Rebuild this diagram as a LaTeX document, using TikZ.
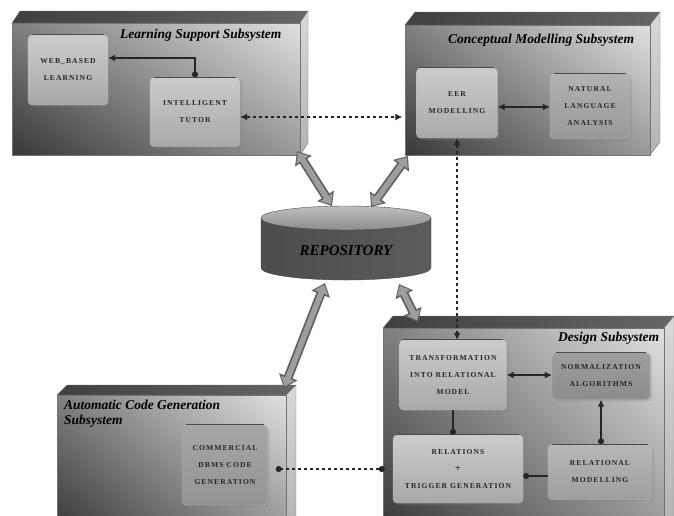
\documentclass[tikz,border=0pt]{standalone}
\usepackage{fontspec}
\setmainfont{Liberation Serif}
\newfontfamily\boxfont[LetterSpace=14]{Liberation Serif}
\usetikzlibrary{arrows.meta,shadows,shadings,calc}

\tikzset{
 face/.style={draw=black!55, line width=0.4pt},
 inbox/.style={rounded corners=4pt, draw=black!28, top color=black!20, bottom color=black!34,
   align=center, font=\boxfont\bfseries\fontsize{7.6}{17}\selectfont, text=black!85, inner sep=2pt,
   drop shadow={shadow xshift=2pt,shadow yshift=-2pt,opacity=0.25}},
 titletext/.style={font=\bfseries\itshape\fontsize{13.5}{15}\selectfont, inner sep=0pt},
 conn/.style={line width=1.2pt, black!85},
 dconn/.style={conn, dash pattern=on 3.5pt off 2.5pt},
 tipA/.tip={Latex[length=7pt,width=7pt]},
 tipC/.tip={Circle[length=6pt]},
 bigout/.style={line width=9pt, black!62, {Triangle[length=12pt,width=19pt]}-{Triangle[length=12pt,width=19pt]}},
 bigin/.style={line width=5.5pt, black!38, {Triangle[length=8.5pt,width=14pt]}-{Triangle[length=8.5pt,width=14pt]}, shorten <=1.9pt, shorten >=1.9pt},
 headline/.style={line width=1.3pt, black!70},
}

\newcommand\solidbox[6]{%
 \path[face, left color=black!75, right color=black!60] (#1,#2) -- (#1+#5,#2-#6) -- (#3+#5,#2-#6) -- (#3,#2) -- cycle;
 \path[face, top color=black!15, bottom color=black!30] (#3,#2) -- (#3+#5,#2-#6) -- (#3+#5,#4-#6) -- (#3,#4) -- cycle;
 \path[face, shading=bilinear interpolation, upper left=black!50, upper right=black!12, lower left=black!78, lower right=black!40] (#1,#2) rectangle (#3,#4);
}

\begin{document}
\begin{tikzpicture}[x=1pt,y=-1pt]
\useasboundingbox[fill=white] (0,0) rectangle (674,515);

% subsystem boxes
\solidbox{12}{23}{300}{155}{8}{12}
\solidbox{405}{25}{650}{155}{10}{13}
\solidbox{383}{328}{664}{530}{10}{12}
\solidbox{57}{395}{286}{530}{10}{10}

% titles
\node[titletext, anchor=west] (tls) at (120,35) {Learning Support Subsystem};
\node[titletext, anchor=west] (tcm) at (448,40) {Conceptual Modelling Subsystem};
\node[titletext, anchor=west] (tds) at (558,338) {Design Subsystem};
\node[titletext, anchor=north west, align=left] (tac) at (64,400) {Automatic Code Generation\\Subsystem};

% inner boxes
\node[inbox, minimum width=80pt, minimum height=70pt] (web) at (68,70) {WEB\_BASED\\LEARNING};
\node[inbox, minimum width=90pt, minimum height=69pt] (tutor) at (195,112) {INTELLIGENT\\TUTOR};
\node[inbox, minimum width=81pt, minimum height=70pt] (eer) at (457,103) {EER\\MODELLING};
\node[inbox, minimum width=80pt, minimum height=65pt, top color=black!30, bottom color=black!40] (nla) at (590,106) {NATURAL\\LANGUAGE\\ANALYSIS};
\node[inbox, minimum width=107pt, minimum height=70pt] (trans) at (453,375) {TRANSFORMATION\\INTO RELATIONAL\\MODEL};
\node[inbox, minimum width=98pt, minimum height=47pt, top color=black!38, bottom color=black!45] (norm) at (601,376) {NORMALIZATION\\ALGORITHMS};
\node[inbox, minimum width=130pt, minimum height=68pt] (rel) at (458,469) {RELATIONS\\{\fontsize{10}{17}\selectfont +}\\TRIGGER GENERATION};
\node[inbox, minimum width=104pt, minimum height=55pt, top color=black!28, bottom color=black!38] (relm) at (600,472) {RELATIONAL\\MODELLING};
\node[inbox, minimum width=85pt, minimum height=80pt, top color=black!35, bottom color=black!42] (comm) at (225,465) {COMMERCIAL\\DBMS CODE\\GENERATION};

\foreach \n in {web,tutor,eer,nla,trans,norm,rel,relm,comm}{
  \draw[headline] ([xshift=4pt]\n.north west) -- ([xshift=-4pt]\n.north east);
}

% repository
\path[draw=black!70, left color=black!70, middle color=black!38, right color=black!64]
  (261,218) -- (261,268) arc[start angle=180, end angle=360, x radius=85pt, y radius=12pt] -- (431,218) -- cycle;
\path[draw=black!70, top color=black!25, bottom color=black!45] (346,218) ellipse [x radius=85pt, y radius=12pt];
\node[font=\bfseries\itshape\fontsize{15}{17}\selectfont] (repo) at (346,251) {REPOSITORY};

% big arrows
\coordinate (lsA) at (297,151); \coordinate (rp1) at (332,206);
\coordinate (cmA) at (408,156); \coordinate (rp2) at (371,207);
\coordinate (rp3) at (325,283); \coordinate (acA) at (284,388);
\coordinate (rp4) at (399,284); \coordinate (dsA) at (418,322);
\foreach \a/\b in {lsA/rp1, cmA/rp2, rp3/acA, rp4/dsA}{
  \draw[bigout] (\a) -- (\b);
  \draw[bigin] (\a) -- (\b);
}

% connectors
\draw[conn, {tipC}-{tipA}] (tutor.north) |- ([yshift=12pt]web.east);
\draw[dconn, {tipA}-{tipA}, shorten >=14pt] ([yshift=-5pt]tutor.east) -- ([yshift=-5pt]tutor.east -| eer.west);
\draw[conn, {tipA}-{tipA}] ([yshift=-4pt]eer.east) -- ([yshift=-4pt]eer.east -| nla.west);
\draw[dconn, {tipA}-{tipA}] (eer.south) -- (eer.south |- trans.north);
\draw[conn, -{tipC}] (trans.south) -- (trans.south |- rel.north);
\draw[conn, {tipA}-{tipA}] (trans.east) -- (trans.east -| norm.west);
\draw[conn, {tipA}-{tipC}] (norm.south) -- (norm.south |- relm.north);
\draw[conn, -{tipC}] ([yshift=-4pt]relm.west) -- ([yshift=-4pt]relm.west -| rel.east);
\draw[dconn, {tipC}-{tipC}] ([xshift=-8pt]rel.west) -- ([xshift=8pt]rel.west -| comm.east);
\end{tikzpicture}
\end{document}
